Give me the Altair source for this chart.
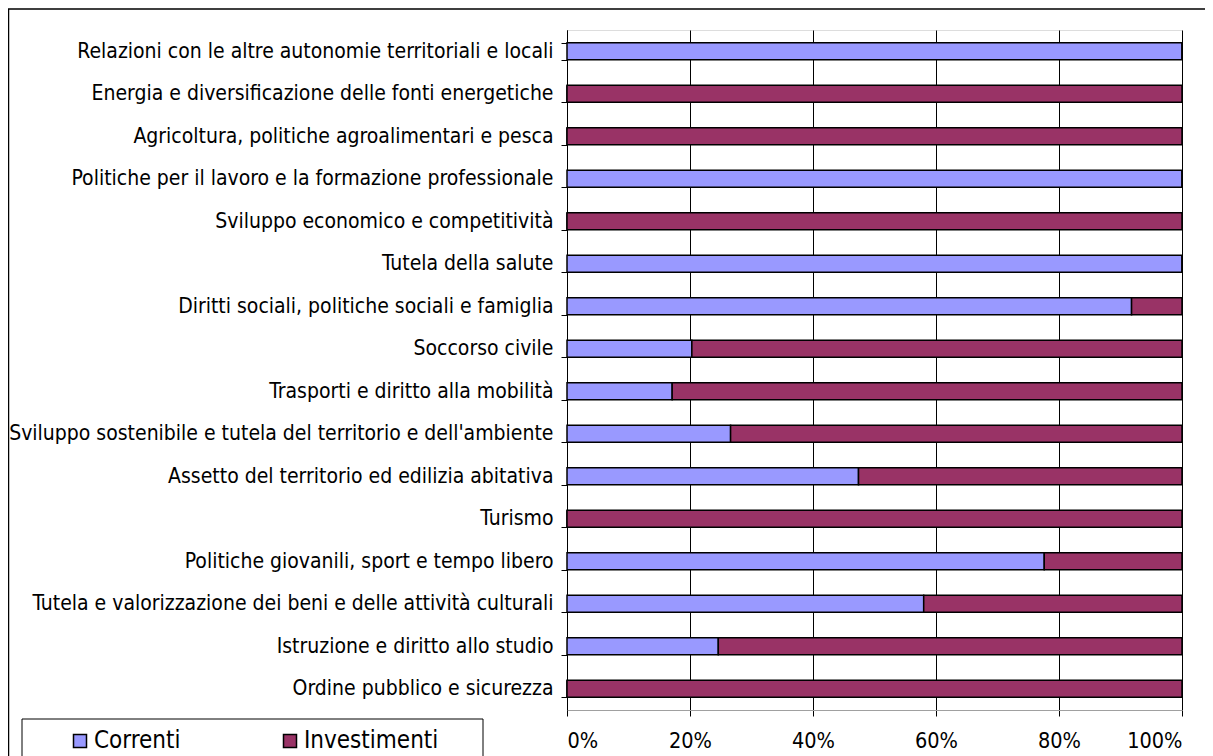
import altair as alt
import pandas as pd

categories = [
    "Relazioni con le altre autonomie territoriali e locali",
    "Energia e diversificazione delle fonti energetiche",
    "Agricoltura, politiche agroalimentari e pesca",
    "Politiche per il lavoro e la formazione professionale",
    "Sviluppo economico e competitività",
    "Tutela della salute",
    "Diritti sociali, politiche sociali e famiglia",
    "Soccorso civile",
    "Trasporti e diritto alla mobilità",
    "Sviluppo sostenibile e tutela del territorio e dell'ambiente",
    "Assetto del territorio ed edilizia abitativa",
    "Turismo",
    "Politiche giovanili, sport e tempo libero",
    "Tutela e valorizzazione dei beni e delle attività  culturali",
    "Istruzione e diritto allo studio",
    "Ordine pubblico e sicurezza",
]
correnti = [100, 0, 0, 100, 0, 100, 91.8, 20.3, 17.1, 26.6, 47.4, 0, 77.6, 58.0, 24.6, 0]
investimenti = [0, 100, 100, 0, 100, 0, 8.2, 79.7, 82.9, 73.4, 52.6, 100, 22.4, 42.0, 75.4, 100]
series = ["Correnti", "Investimenti"]
colors = ["#9999FF", "#993366"]
x_ticks = [0, 20, 40, 60, 80, 100]

rows = []
for c, a, b in zip(categories, correnti, investimenti):
    rows.append({"cat": c, "serie": series[0], "val": a, "ord": 0})
    rows.append({"cat": c, "serie": series[1], "val": b, "ord": 1})
df = pd.DataFrame(rows)

FONT = "DejaVu Sans Condensed, DejaVu Sans"

bars = alt.Chart(df).mark_bar(stroke="black", strokeWidth=1.5).encode(
    y=alt.Y("cat:N", sort=categories, title=None,
            scale=alt.Scale(paddingInner=0.6, paddingOuter=0.3),
            axis=alt.Axis(tickBand="extent", tickSize=6, tickColor="black",
                          domainColor="black", labelPadding=8, labelFontSize=21,
                          labelFont=FONT, labelColor="black", labelLimit=600,
                          grid=False)),
    x=alt.X("val:Q", stack="zero", title=None,
            scale=alt.Scale(domain=[0, 100], nice=False),
            axis=alt.Axis(values=x_ticks, labelExpr="datum.value + '%'",
                          tickSize=6, tickColor="black", domainColor="#a0a0a0",
                          gridColor="black", gridWidth=1, labelFontSize=21.5,
                          labelFont=FONT, labelColor="black", labelPadding=14)),
    color=alt.Color("serie:N", sort=series,
                    scale=alt.Scale(domain=series, range=colors),
                    legend=alt.Legend(orient="none", direction="horizontal",
                                      legendX=-499, legendY=699, title=None,
                                      symbolType="square", symbolSize=169,
                                      symbolStrokeColor="black", symbolStrokeWidth=1.5,
                                      labelFont=FONT, labelFontSize=24,
                                      labelColor="black", labelOffset=2,
                                      columnPadding=97, padding=0)),
    order=alt.Order("ord:Q"),
)

one = pd.DataFrame({"k": [0]})
outer = alt.Chart(one).mark_rect(fill=None, stroke="black", strokeWidth=1.5).encode(
    x=alt.value(-558.5), x2=alt.value(700), y=alt.value(-21), y2=alt.value(800)
)
legend_box = alt.Chart(one).mark_rect(fill=None, stroke="black", strokeWidth=1).encode(
    x=alt.value(-545), x2=alt.value(-84), y=alt.value(689), y2=alt.value(800)
)

chart = alt.layer(outer, legend_box, bars).properties(
    width=615, height=680,
    autosize=alt.AutoSizeParams(type="none"),
    padding={"left": 559, "top": 22, "right": 23, "bottom": 54},
).configure_view(stroke="#a0a0a0", strokeWidth=1.5).configure(background="white")

chart.save("out.html", embed_options={"renderer": "svg", "actions": False})
